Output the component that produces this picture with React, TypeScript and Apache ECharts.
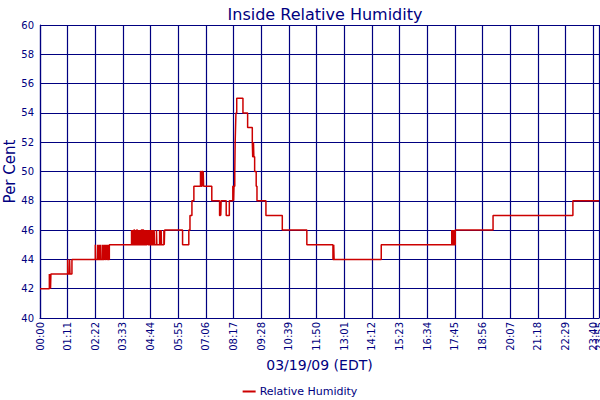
import {useEffect, useRef} from 'react';
import * as echarts from 'echarts';

// change points of the step line: minutes after midnight -> %RH
const times = [
    0, 24, 25, 26, 27, 28, 71, 72, 76, 77, 82,
    142, 143, 148, 149, 152, 153, 156, 157, 161, 162, 165, 166, 167, 168, 170, 171, 172, 173, 175, 176, 178,
    235, 236, 238, 239, 241, 243, 245, 246, 248, 250, 252, 253, 256, 257, 260, 262, 264, 266, 268, 269,
    271, 272, 275, 276, 277, 278, 280, 281, 283, 284, 286, 287, 289, 290, 293, 294, 299, 300, 307, 308,
    311, 312, 318, 319, 320,
    366, 382, 385, 390, 395, 412, 414, 416, 418, 419, 420, 441,
    461, 463, 464, 465, 478, 486, 495, 497, 498, 500, 501, 502, 503, 505,
    521, 533, 545, 546, 548, 549, 551, 555, 557, 580, 622, 685,
    752, 754, 755, 876, 1057, 1058, 1060, 1061, 1063, 1064, 1066, 1163, 1368, 1435
];
const humidity = [
    42, 43, 42, 43, 42, 43, 44, 43, 44, 43, 44,
    45, 44, 45, 44, 45, 44, 45, 44, 45, 44, 45, 44, 45, 44, 45, 44, 45, 44, 45, 44, 45,
    46, 45, 46, 45, 46, 45, 46, 45, 46, 45, 46, 45, 46, 45, 46, 45, 46, 45, 46, 45,
    46, 45, 46, 45, 46, 45, 46, 45, 46, 45, 46, 45, 46, 45, 46, 45, 46, 45, 46, 45,
    46, 45, 46, 45, 46,
    45, 46, 47, 48, 49, 50, 49, 50, 49, 50, 49, 48,
    47, 48, 47, 48, 47, 48, 49, 48, 49, 50, 52, 53, 54, 55,
    54, 53, 52, 51, 52, 51, 50, 49, 48, 47, 46, 45,
    44, 45, 44, 45, 46, 45, 46, 45, 46, 45, 46, 47, 48, 48
];

const X_MIN = 0;
const X_MAX = 1435;
const X_STEP = 71;

const NAVY = '#000080';
const FONT = 'DejaVu Sans';

const hhmm = (v: number): string => {
    const h = Math.floor(v / 60);
    const m = Math.round(v % 60);
    return String(h).padStart(2, '0') + ':' + String(m).padStart(2, '0');
};

const tickLabel = {rotate: 90, margin: 4, color: NAVY, fontFamily: FONT, fontSize: 10, hideOverlap: false};

export default function App() {
    const ref = useRef<HTMLDivElement | null>(null);

    useEffect(() => {
        if (!ref.current) return;
        const chart = echarts.init(ref.current, null, {renderer: 'svg'});
        chart.setOption({
            animation: false,
            backgroundColor: '#ffffff',
            title: {
                text: 'Inside Relative Humidity',
                left: 320, top: 1, textAlign: 'center',
                textStyle: {color: NAVY, fontFamily: FONT, fontSize: 16, fontWeight: 'normal'}
            },
            legend: {
                data: ['Relative Humidity'],
                left: 'center', top: 381,
                icon: 'rect', itemWidth: 13, itemHeight: 2, itemGap: 4,
                textStyle: {color: NAVY, fontFamily: FONT, fontSize: 11, padding: [0, 0, 0, -1]}
            },
            grid: {left: 40, right: 1, top: 25, bottom: 82, containLabel: false, outerBoundsMode: 'none'},
            xAxis: [
                {
                    type: 'value', min: X_MIN, max: X_MAX, interval: X_STEP,
                    name: '03/19/09 (EDT)', nameLocation: 'middle', nameGap: 40, nameMoveOverlap: false,
                    nameTextStyle: {color: NAVY, fontFamily: FONT, fontSize: 14},
                    axisLine: {lineStyle: {color: NAVY, width: 1.2}},
                    axisTick: {show: false},
                    axisLabel: {...tickLabel, showMaxLabel: false, formatter: (v: number) => hhmm(v)},
                    splitLine: {show: true, lineStyle: {color: NAVY, width: 1.2}}
                },
                {
                    // carries only the end-of-day label, which overlaps 23:40 as in the original
                    type: 'value', min: X_MIN, max: X_MAX, interval: X_MAX, position: 'bottom', offset: 0,
                    axisLine: {show: false},
                    axisTick: {show: false},
                    splitLine: {show: false},
                    axisLabel: {
                        ...tickLabel, showMinLabel: true, showMaxLabel: true,
                        formatter: (v: number) => (v === X_MAX ? hhmm(v) : '')
                    }
                }
            ],
            yAxis: {
                type: 'value', min: 40, max: 60, interval: 2,
                name: 'Per Cent', nameLocation: 'middle', nameRotate: 90, nameGap: 23, nameMoveOverlap: false,
                nameTextStyle: {color: NAVY, fontFamily: FONT, fontSize: 15},
                axisLine: {show: true, lineStyle: {color: NAVY, width: 1.2}},
                axisTick: {show: false},
                axisLabel: {margin: 6, color: NAVY, fontFamily: FONT, fontSize: 10},
                splitLine: {show: true, lineStyle: {color: NAVY, width: 1.2}}
            },
            series: [
                {
                    name: 'Relative Humidity', type: 'line', step: 'end',
                    showSymbol: false, symbol: 'none',
                    data: times.map((t, i) => [t, humidity[i]]),
                    lineStyle: {color: '#cc0000', width: 1.5},
                    itemStyle: {color: '#cc0000'}
                }
            ]
        });
        return () => chart.dispose();
    }, []);

    return <div ref={ref} style={{position: 'fixed', left: 0, top: 0, width: 600, height: 400}}/>;
}
